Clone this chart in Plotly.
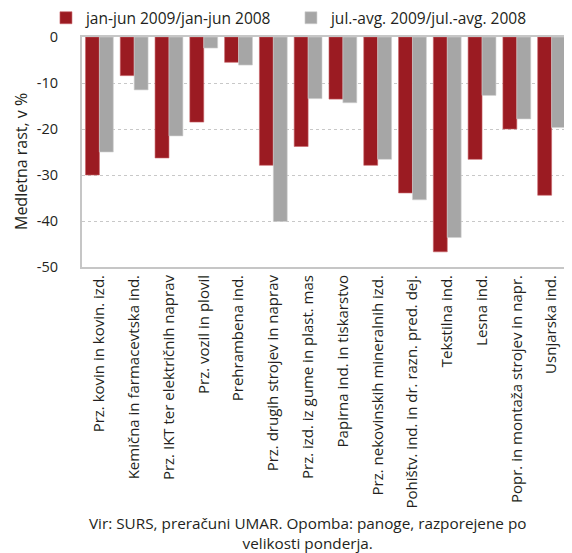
import plotly.graph_objects as go

categories = [
    "Prz. kovin in kovin. izd.",
    "Kemična in farmacevtska ind.",
    "Prz. IKT ter električnih naprav",
    "Prz. vozil in plovil",
    "Prehrambena ind.",
    "Prz. drugih strojev in naprav",
    "Prz. izd. iz gume in plast. mas",
    "Papirna ind. in tiskarstvo",
    "Prz. nekovinskih mineralnih izd.",
    "Pohištv. ind. in dr. razn. pred. dej.",
    "Tekstilna ind.",
    "Lesna ind.",
    "Popr. in montaža strojev in napr.",
    "Usnjarska ind.",
]
jan_jun = [-30.0, -8.4, -26.3, -18.5, -5.5, -27.9, -23.8, -13.5, -27.9, -33.9, -46.7, -26.6, -20.0, -34.4]
jul_avg = [-25.0, -11.5, -21.5, -2.4, -6.1, -40.1, -13.4, -14.3, -26.6, -35.4, -43.6, -12.7, -17.8, -19.7]
series_names = ["jan-jun 2009/jan-jun 2008", "jul.-avg. 2009/jul.-avg. 2008"]
y_ticks = [0, -10, -20, -30, -40, -50]
y_ticktext = ["0", "-10", "-20", "-30", "-40", "-50"]

FONT = "Open Sans"
TXT = "#231f20"

fig = go.Figure()
fig.add_trace(go.Bar(x=categories, y=jan_jun, name=series_names[0],
                     marker=dict(color="#9b1b22", line=dict(color="#c9656a", width=0.6))))
fig.add_trace(go.Bar(x=categories, y=jul_avg, name=series_names[1],
                     marker=dict(color="#a6a6a6", line=dict(color="#d0d0d0", width=0.6))))

fig.update_layout(
    width=564, height=545,
    margin=dict(l=74, r=3, t=29, b=286, autoexpand=False),
    paper_bgcolor="white", plot_bgcolor="white",
    font=dict(family=FONT, size=15, color=TXT),
    barmode="group", bargap=0.2, bargroupgap=0.0,
    showlegend=True,
    legend=dict(orientation="h", x=-0.074, xanchor="left", y=1.008, yanchor="bottom",
                itemwidth=30, entrywidth=200, entrywidthmode="pixels",
                font=dict(size=15.5, color=TXT), bgcolor="rgba(0,0,0,0)",
                itemclick=False),
    annotations=[
        dict(text="Medletna rast, v %", xref="paper", yref="paper", x=-0.125, y=0.457,
             textangle=-90, showarrow=False, font=dict(size=16, color=TXT),
             xanchor="center", yanchor="middle"),
        dict(text="Vir: SURS, preračuni UMAR. Opomba: panoge, razporejene po<br>velikosti ponderja.",
             xref="paper", yref="paper", x=0.464, y=-1.06, xanchor="center", yanchor="top",
             showarrow=False, font=dict(size=15.3, color=TXT), align="center"),
    ],
)
fig.update_xaxes(tickangle=-90, showline=True, mirror=True, linecolor="#c6c6c6", linewidth=2,
                 showgrid=False, ticks="", tickfont=dict(size=15, color=TXT))
fig.update_yaxes(range=[-50, 0], tickvals=y_ticks, ticktext=y_ticktext,
                 showline=True, mirror=True, linecolor="#c6c6c6", linewidth=2,
                 showgrid=True, gridcolor="#c8c8c8", griddash="dot", gridwidth=1,
                 zeroline=False, ticks="", ticklabelstandoff=19,
                 tickfont=dict(size=14.5, color=TXT))

fig.write_html("out.html")
